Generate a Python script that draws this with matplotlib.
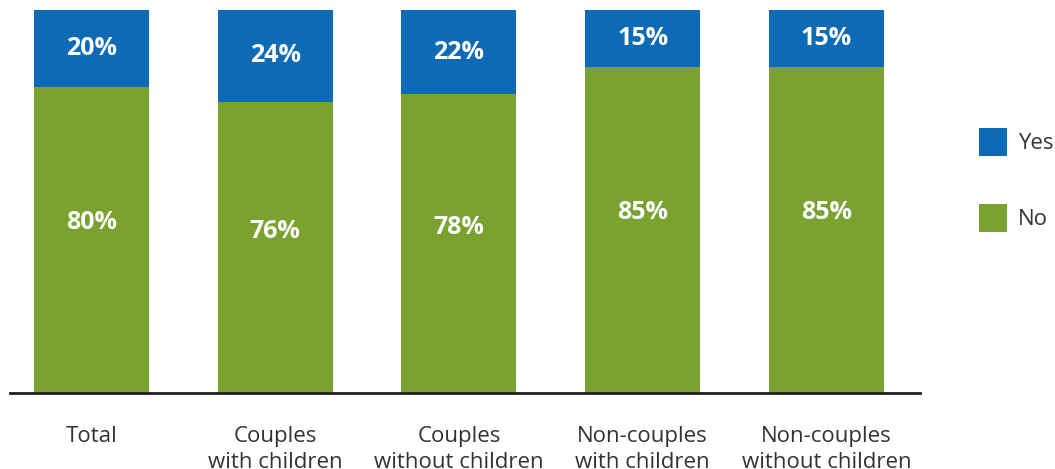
import matplotlib
matplotlib.use("Agg")
import matplotlib.pyplot as plt
from matplotlib.patches import Rectangle

categories = ["Total", "Couples\nwith children", "Couples\nwithout children",
              "Non-couples\nwith children", "Non-couples\nwithout children"]
no_values = [80, 76, 78, 85, 85]
yes_values = [20, 24, 22, 15, 15]
series_names = ["Yes", "No"]

GREEN = "#7aa22f"
BLUE = "#0d6bb6"
TEXT = "#333333"

plt.rcParams["font.family"] = ["Open Sans", "DejaVu Sans"]

W, H = 1055, 469
fig = plt.figure(figsize=(W / 100, H / 100), dpi=100)
ax = fig.add_axes([10 / W, 76 / H, 910 / W, 383 / H])

x = list(range(len(categories)))
width = 0.626
ax.bar(x, no_values, width=width, color=GREEN)
ax.bar(x, yes_values, width=width, bottom=no_values, color=BLUE)

for xi, n, y in zip(x, no_values, yes_values):
    ax.text(xi, n * 0.555, f"{n}%", ha="center", va="center",
            color="white", fontsize=18, fontweight="bold")
    ax.text(xi, n + y / 2, f"{y}%", ha="center", va="center",
            color="white", fontsize=18, fontweight="bold")

ax.set_xlim(-0.4435, 4.509)
ax.set_ylim(0, 100)
ax.set_yticks([])
ax.set_xticks(x)
ax.set_xticklabels(categories, fontsize=16, color=TEXT, linespacing=1.3,
                   va="top")
ax.tick_params(axis="x", length=0, pad=24)
for side in ["left", "right", "top"]:
    ax.spines[side].set_visible(False)
ax.spines["bottom"].set_color("#231f20")
ax.spines["bottom"].set_linewidth(2)

# legend: colour squares with their labels on the right
legend_colors = [BLUE, GREEN]
legend_tops = [128, 204]
sq = 28
for name, color, top in zip(series_names, legend_colors, legend_tops):
    fig.add_artist(Rectangle((979 / W, 1 - (top + sq) / H), sq / W, sq / H,
                             facecolor=color, edgecolor="none",
                             transform=fig.transFigure))
    fig.text(1018 / W, 1 - (top + sq / 2 + 1) / H, name, ha="left", va="center",
             fontsize=16, color=TEXT)

fig.savefig("out.png", dpi=100)
